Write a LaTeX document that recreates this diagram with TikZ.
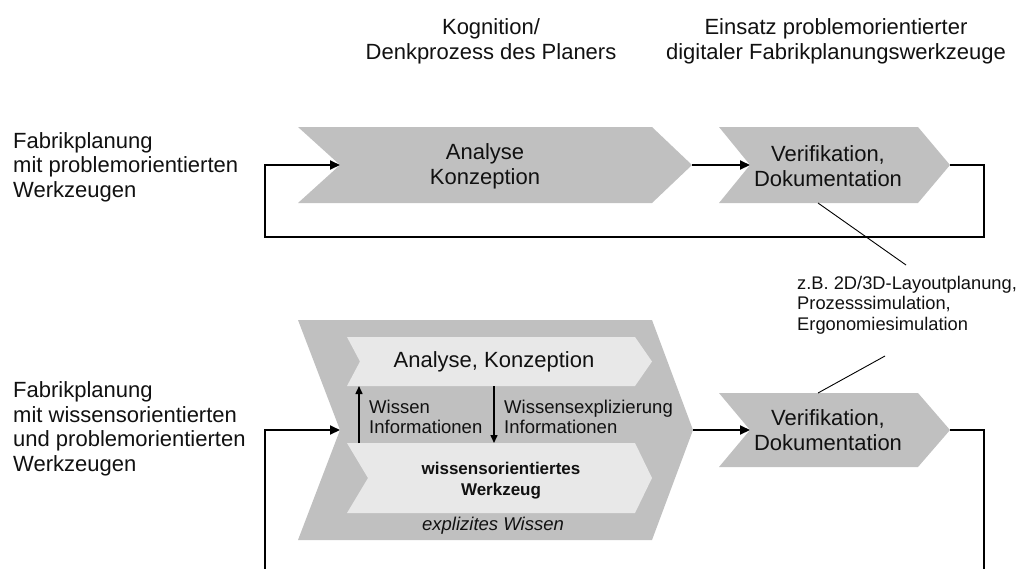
\documentclass[tikz,border=0pt]{standalone}
\usepackage{fontspec}
\setmainfont{Liberation Sans}
\usetikzlibrary{arrows.meta}
\definecolor{chevdark}{HTML}{C0C0C0}
\definecolor{chevlight}{HTML}{E8E8E8}
\definecolor{txt}{HTML}{111111}
\begin{document}
\begin{tikzpicture}[x=1pt,y=-1pt,
  conn/.style={line width=2pt, -{Triangle[length=10pt,width=9pt]}},
  loopline/.style={line width=2pt},
  smallarrow/.style={line width=1.5pt, -{Triangle[length=8pt,width=7pt]}},
  callout/.style={line width=0.9pt},
  bigtext/.style={inner sep=0pt, align=center, text=txt, font=\fontsize{22}{25}\selectfont},
  lbl/.style={inner sep=0pt, align=left, anchor=west, text=txt, font=\fontsize{22}{24.5}\selectfont},
  midtext/.style={inner sep=0pt, align=left, anchor=west, text=txt, font=\fontsize{18.5}{20.5}\selectfont},
  notetext/.style={inner sep=0pt, align=left, anchor=west, text=txt, font=\fontsize{18.3}{20.5}\selectfont},
  line join=miter]
\useasboundingbox (0,0) rectangle (1022,568);

% headers
\node[bigtext] (h1) at (491,41) {Kognition/\\Denkprozess des Planers};
\node[bigtext] (h2) at (836,41) {Einsatz problemorientierter\\digitaler Fabrikplanungswerkzeuge};

% left labels
\node[lbl] (l1) at (13,167) {Fabrikplanung\\mit problemorientierten\\Werkzeugen};
\node[lbl] (l2) at (13,429) {Fabrikplanung\\mit wissensorientierten\\und problemorientierten\\Werkzeugen};

% top row chevrons
\fill[chevdark] (298,127) -- (652,127) -- (692,165) -- (652,203) -- (298,203) -- (340,165) -- cycle;
\coordinate (a1in) at (340,165);
\coordinate (a1out) at (692,165);
\node[bigtext] (a1) at (485,166) {Analyse\\Konzeption};

\fill[chevdark] (719,127) -- (918,127) -- (950,165) -- (918,203) -- (719,203) -- (750,165) -- cycle;
\coordinate (v1in) at (750,165);
\coordinate (v1out) at (950,165);
\coordinate (v1bot) at (818,203);
\node[bigtext] (v1) at (828,166) {Verifikation,\\Dokumentation};

\draw[conn] (a1out) -- (v1in);
\draw[conn] (v1out) -| (984,237) -| (265,165) -- (a1in);

% bottom row big chevron
\fill[chevdark] (298,320) -- (652,320) -- (693,430) -- (652,540) -- (298,540) -- (340,430) -- cycle;
\coordinate (b1in) at (340,430);
\coordinate (b1out) at (693,430);

\fill[chevlight] (347,337) -- (635,337) -- (652,361.5) -- (635,386) -- (347,386) -- (360,361.5) -- cycle;
\node[inner sep=0pt, text=txt, font=\fontsize{22}{25}\selectfont] (ak) at (494,362) {Analyse, Konzeption};
\coordinate (akup) at (359,386);
\coordinate (akdn) at (494,386);

\fill[chevlight] (347,443) -- (635,443) -- (652,478) -- (635,513) -- (347,513) -- (368,478) -- cycle;
\node[inner sep=0pt, align=center, text=txt, font=\fontsize{17}{21}\selectfont\bfseries] (ww) at (501,481) {wissensorientiertes\\Werkzeug};
\coordinate (wwup) at (359,443);
\coordinate (wwdn) at (494,443);

\node[inner sep=0pt, text=txt, font=\fontsize{18.5}{21}\selectfont\itshape] (ew) at (493,526) {explizites Wissen};

\draw[smallarrow] (wwup) -- (akup);
\draw[smallarrow] (akdn) -- (wwdn);
\node[midtext] (wi) at (369,417) {Wissen\\Informationen};
\node[midtext] (we) at (504,417) {Wissensexplizierung\\Informationen};

% bottom Verifikation
\fill[chevdark] (719,393) -- (918,393) -- (950,430) -- (918,467) -- (719,467) -- (750,430) -- cycle;
\coordinate (v2in) at (750,430);
\coordinate (v2out) at (950,430);
\coordinate (v2top) at (818,393);
\node[bigtext] (v2) at (828,430) {Verifikation,\\Dokumentation};

\draw[conn] (b1out) -- (v2in);
\coordinate (rb) at (984,570);
\coordinate (lb) at (265,570);
\draw[loopline] (v2out) -| (rb);
\draw[conn] (lb) |- (b1in);

% callout
\node[notetext] (note) at (797,305) {z.B. 2D/3D-Layoutplanung,\\Prozesssimulation,\\Ergonomiesimulation};
\coordinate (c1) at (906,265);
\coordinate (c2) at (885,356);
\draw[callout] (v1bot) -- (c1);
\draw[callout] (v2top) -- (c2);
\end{tikzpicture}
\end{document}
